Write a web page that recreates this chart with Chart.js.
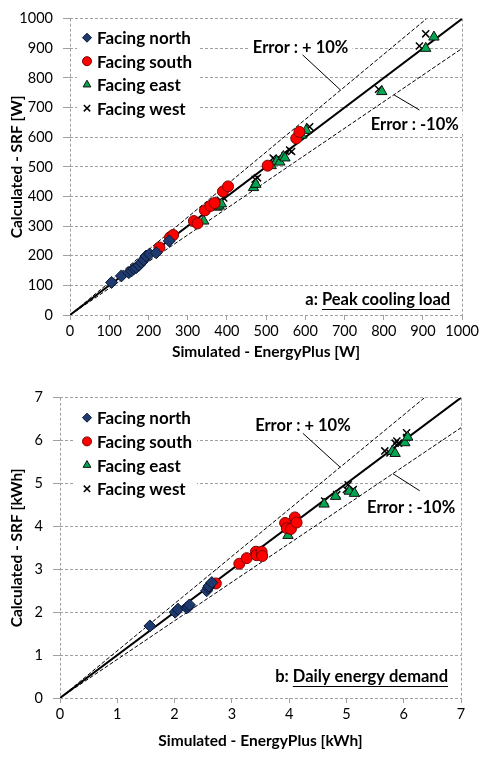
<!DOCTYPE html>
<html>
<head>
<meta charset="utf-8">
<script src="https://cdn.jsdelivr.net/npm/chart.js@4.4.0/dist/chart.umd.min.js"></script>
<style>
  html, body { margin: 0; padding: 0; background: #fff; }
  canvas { display: block; }
</style>
</head>
<body>
<canvas id="peakLoad" width="482" height="379"></canvas>
<canvas id="dailyEnergy" width="482" height="379"></canvas>
<script>
// a: peak cooling load [W]  (simulated x, calculated y)
const peakNorthX = [106, 131, 150, 157, 163, 169, 176, 182, 188, 194, 203, 220, 253];
const peakNorthY = [110, 132, 143, 149, 156, 160, 168, 177, 186, 199, 206, 210, 250];
const peakSouthX = [228, 255, 263, 316, 325, 344, 358, 369, 390, 403, 504, 577, 585];
const peakSouthY = [228, 262, 270, 317, 309, 353, 368, 378, 417, 434, 504, 596, 618];
const peakEastX = [341, 375, 380, 386, 468, 474, 513, 527, 535, 544, 548, 590, 602, 795, 907, 928];
const peakEastY = [317, 364, 368, 375, 430, 441, 504, 519, 516, 535, 530, 607, 623, 754, 900, 938];
const peakWestX = [384, 392, 472, 478, 518, 522, 548, 560, 565, 611, 787, 891, 907];
const peakWestY = [386, 395, 458, 463, 530, 525, 537, 557, 552, 635, 762, 908, 949];
const peakTicks = [0, 100, 200, 300, 400, 500, 600, 700, 800, 900, 1000];

// b: daily energy demand [kWh]
const dailyNorthX = [1.57, 2.01, 2.06, 2.21, 2.24, 2.26, 2.56, 2.59, 2.60, 2.65];
const dailyNorthY = [1.68, 2.00, 2.07, 2.10, 2.12, 2.17, 2.50, 2.57, 2.61, 2.69];
const dailySouthX = [2.72, 3.13, 3.26, 3.42, 3.43, 3.52, 3.53, 3.93, 3.96, 4.03, 4.10, 4.13];
const dailySouthY = [2.67, 3.13, 3.26, 3.41, 3.33, 3.41, 3.31, 4.08, 3.96, 3.94, 4.21, 4.09];
const dailyEastX = [3.98, 4.61, 4.81, 5.05, 5.14, 5.80, 5.85, 6.02, 6.07];
const dailyEastY = [3.79, 4.52, 4.70, 4.82, 4.77, 5.75, 5.70, 5.95, 6.08];
const dailyWestX = [4.62, 4.83, 5.00, 5.03, 5.12, 5.67, 5.76, 5.85, 5.88, 5.91, 6.05, 6.05];
const dailyWestY = [4.59, 4.74, 4.86, 4.97, 4.86, 5.76, 5.71, 5.94, 5.99, 5.94, 6.07, 6.18];
const dailyTicks = [0, 1, 2, 3, 4, 5, 6, 7];

const seriesNames = ['Facing north', 'Facing south', 'Facing east', 'Facing west'];
const errorRatios = [1, 1.1, 0.9]; // y = x, +10%, -10%

const fonte = 'Lato, "Open Sans", sans-serif';

// estilo dos marcadores (norte, sul, leste, oeste)
const marcadores = [
  { pointStyle: 'rectRot', radius: 6, backgroundColor: '#1f3a6e', borderColor: '#0a1733', borderWidth: 1 },
  { pointStyle: 'circle', radius: 5.5, backgroundColor: '#ff0000', borderColor: '#7a0000', borderWidth: 1 },
  { pointStyle: 'triangle', radius: 6, backgroundColor: '#00a650', borderColor: '#111', borderWidth: 1 },
  { pointStyle: 'crossRot', radius: 5, backgroundColor: '#000', borderColor: '#000', borderWidth: 1.5 }
];

function pares(xs, ys) {
  return xs.map((x, i) => ({ x: x, y: ys[i] }));
}

// plugin: legenda, rótulos de erro e título do painel
const notas = {
  id: 'notas',
  afterDraw(chart, args, o) {
    const ctx = chart.ctx;
    const a = chart.chartArea;
    const sx = chart.scales.x, sy = chart.scales.y;
    ctx.save();

    // legenda
    const L = o.legenda;
    ctx.fillStyle = '#fff';
    ctx.fillRect(a.left + L.box[0], a.top + L.box[1], L.box[2], L.box[3]);
    ctx.font = 'bold 17px ' + fonte;
    ctx.textBaseline = 'middle';
    ctx.textAlign = 'left';
    seriesNames.forEach((nome, i) => {
      const m = marcadores[i];
      const px = a.left + L.x, py = a.top + L.y0 + i * L.dy;
      ctx.fillStyle = m.backgroundColor;
      ctx.strokeStyle = m.borderColor;
      ctx.lineWidth = m.borderWidth;
      Chart.helpers.drawPoint(ctx, { pointStyle: m.pointStyle, radius: 4.5, rotation: 0, borderWidth: m.borderWidth }, px, py);
      ctx.fillStyle = '#000';
      ctx.fillText(nome, px + 10, py + 1);
    });

    // rótulos de erro com linha de chamada
    ctx.font = 'bold 16.5px ' + fonte;
    ctx.textAlign = 'center';
    o.erros.forEach(e => {
      const tx = sx.getPixelForValue(e.at[0]), ty = sy.getPixelForValue(e.at[1]);
      const w = ctx.measureText(e.text).width;
      ctx.fillStyle = '#fff';
      ctx.fillRect(tx - w / 2 - 4, ty - 10, w + 8, 20);
      ctx.fillStyle = '#000';
      ctx.fillText(e.text, tx, ty + 1);
      ctx.strokeStyle = '#000';
      ctx.lineWidth = 1;
      ctx.setLineDash([]);
      ctx.beginPath();
      ctx.moveTo(sx.getPixelForValue(e.from[0]), sy.getPixelForValue(e.from[1]));
      ctx.lineTo(sx.getPixelForValue(e.to[0]), sy.getPixelForValue(e.to[1]));
      ctx.stroke();
    });

    // título do painel (parte sublinhada)
    const P = o.painel;
    ctx.textAlign = 'left';
    ctx.fillStyle = '#000';
    const wPre = ctx.measureText(P.prefixo).width;
    const wTit = ctx.measureText(P.texto).width;
    const x0 = a.right - P.dx - wPre - wTit;
    const y0 = a.bottom - P.dy;
    ctx.fillText(P.prefixo, x0, y0);
    ctx.fillText(P.texto, x0 + wPre, y0);
    ctx.beginPath();
    ctx.moveTo(x0 + wPre, y0 + 9.5);
    ctx.lineTo(x0 + wPre + wTit, y0 + 9.5);
    ctx.stroke();
    ctx.restore();
  }
};

function grafico(id, d) {
  const ctx = document.getElementById(id).getContext('2d');
  const ultimo = d.ticks.length - 1;
  const max = d.ticks[ultimo];

  const pontos = [d.nx, d.sx, d.ex, d.wx].map((xs, i) => Object.assign({
    label: seriesNames[i],
    data: pares(xs, [d.ny, d.sy, d.ey, d.wy][i]),
    order: 0
  }, marcadores[i]));

  const linhas = errorRatios.map(r => ({
    type: 'line',
    data: [{ x: 0, y: 0 }, { x: Math.min(max, max / r), y: r * Math.min(max, max / r) }],
    borderColor: '#000',
    borderWidth: r === 1 ? 2 : 1,
    borderDash: r === 1 ? [] : [4, 2],
    pointRadius: 0,
    fill: false,
    order: 1
  }));

  const cinza = '#a0a0a0';
  const fonteTick = { family: fonte, size: 14.5 };
  const fonteTitulo = { family: fonte, size: 15.5, weight: 'bold' };

  return new Chart(ctx, {
    type: 'scatter',
    data: { datasets: pontos.concat(linhas) },
    options: {
      responsive: false,
      animation: false,
      layout: { padding: d.padding },
      plugins: {
        legend: { display: false },
        tooltip: { enabled: false },
        notas: d.notas
      },
      scales: {
        x: {
          type: 'linear', min: 0, max: max,
          afterBuildTicks: s => { s.ticks = d.ticks.map(v => ({ value: v })); },
          afterFit: s => { s.height = d.xAltura; },
          grid: {
            color: c => (c.index === 0 || c.index === ultimo) ? cinza : 'rgba(0,0,0,0)',
            tickColor: cinza, tickLength: 5, lineWidth: 1
          },
          border: { display: false, dash: [3, 2] },
          ticks: { color: '#000', font: fonteTick, padding: 3, maxRotation: 0, callback: v => String(v) },
          title: { display: true, text: d.xTitulo, color: '#000', font: fonteTitulo, padding: 0 }
        },
        y: {
          type: 'linear', min: 0, max: max,
          afterBuildTicks: s => { s.ticks = d.ticks.map(v => ({ value: v })); },
          afterFit: s => { s.width = d.yLargura; },
          grid: { color: cinza, tickColor: cinza, tickLength: 7, lineWidth: 1 },
          border: { display: false, dash: [3, 2] },
          ticks: { color: '#000', font: fonteTick, padding: 10, callback: v => String(v) },
          title: { display: true, text: d.yTitulo, color: '#000', font: fonteTitulo, padding: { top: 8, bottom: 0 } }
        }
      }
    },
    plugins: [notas]
  });
}

grafico('peakLoad', {
  ticks: peakTicks,
  nx: peakNorthX, ny: peakNorthY, sx: peakSouthX, sy: peakSouthY,
  ex: peakEastX, ey: peakEastY, wx: peakWestX, wy: peakWestY,
  xTitulo: 'Simulated - EnergyPlus [W]',
  yTitulo: 'Calculated - SRF [W]',
  padding: { top: 13, right: 16, bottom: 18, left: 0 },
  xAltura: 46, yLargura: 70,
  notas: {
    legenda: { x: 17, y0: 19, dy: 23.5, box: [7, 5, 123, 98] },
    erros: [
      { text: 'Error : + 10%', at: [588, 907], from: [593, 878], to: [690, 759] },
      { text: 'Error : -10%', at: [879, 646], from: [826, 743], to: [891, 692] }
    ],
    painel: { prefixo: 'a: ', texto: 'Peak cooling load', dx: 12, dy: 15 }
  }
});

grafico('dailyEnergy', {
  ticks: dailyTicks,
  nx: dailyNorthX, ny: dailyNorthY, sx: dailySouthX, sy: dailySouthY,
  ex: dailyEastX, ey: dailyEastY, wx: dailyWestX, wy: dailyWestY,
  xTitulo: 'Simulated - EnergyPlus [kWh]',
  yTitulo: 'Calculated - SRF [kWh]',
  padding: { top: 12, right: 21, bottom: 8, left: 0 },
  xAltura: 52, yLargura: 60,
  notas: {
    legenda: { x: 27, y0: 20, dy: 23.7, box: [15, 6, 122, 100] },
    erros: [
      { text: 'Error : + 10%', at: [4.24, 6.38], from: [4.24, 6.17], to: [4.89, 5.38] },
      { text: 'Error : -10%', at: [6.13, 4.46], from: [5.81, 5.23], to: [6.28, 4.83] }
    ],
    painel: { prefixo: 'b: ', texto: 'Daily energy demand', dx: 13, dy: 21 }
  }
});
</script>
</body>
</html>
